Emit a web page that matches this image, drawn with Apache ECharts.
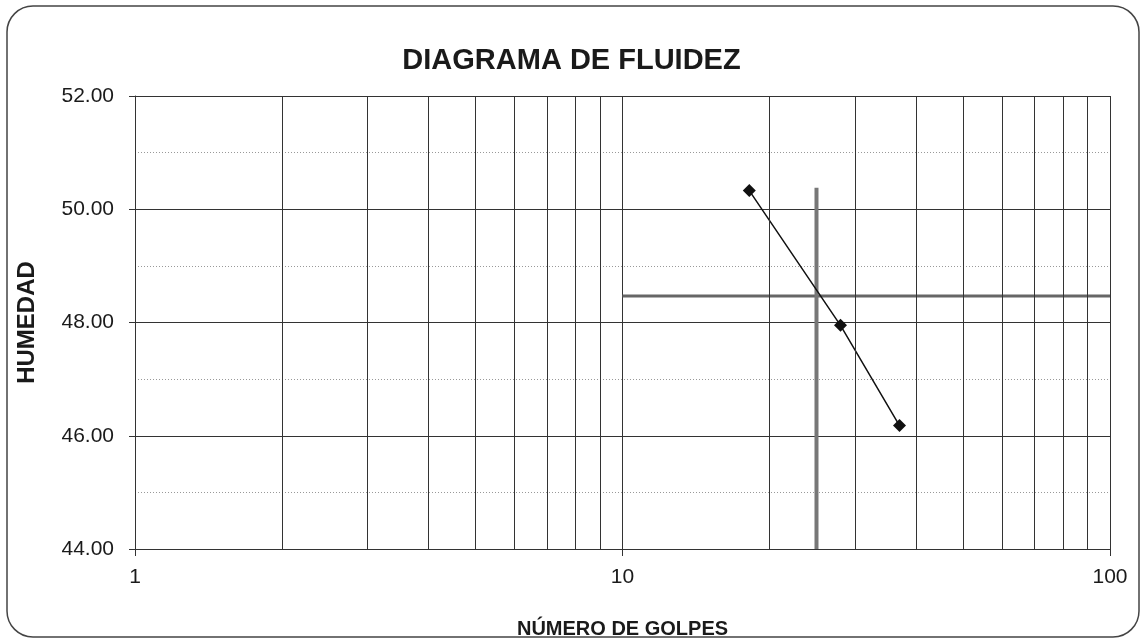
<!DOCTYPE html>
<html>
<head>
<meta charset="utf-8">
<script src="https://cdn.jsdelivr.net/npm/echarts@6/dist/echarts.min.js"></script>
<style>
html,body{margin:0;padding:0;background:#fff;}
#chart{width:1143px;height:641px;}
</style>
</head>
<body>
<div id="chart"></div>
<script>
// datos del ensayo (numero de golpes vs humedad)
var golpes = [18.2, 28, 37];
var humedad = [50.33, 47.95, 46.18];
// linea vertical a 25 golpes
var lineaV = [[25, 44], [25, 50.38]];
// linea horizontal del limite liquido
var lineaH = [[10, 48.47], [100, 48.47]];
// lineas menores de la escala logaritmica
var gridMenorX = [2, 3, 4, 5, 6, 7, 8, 9, 20, 30, 40, 50, 60, 70, 80, 90];

var sans = "'Liberation Sans', Arial, sans-serif";

var myChart = echarts.init(document.getElementById('chart'));
var puntos = [];
for (var i = 0; i < golpes.length; i++) {
	puntos.push([golpes[i], humedad[i]]);
}
var option = {
	backgroundColor: '#fff',
	animation: false,
	title: {
		text: 'DIAGRAMA DE FLUIDEZ',
		left: 'center',
		top: 41,
		textStyle: {fontFamily: sans, fontSize: 29, fontWeight: 'bold', color: '#1a1a1a'}
	},
	graphic: [{
		type: 'rect',
		shape: {x: 7, y: 6, width: 1132, height: 631, r: 26},
		style: {fill: 'none', stroke: '#444', lineWidth: 1.5},
		silent: true
	}],
	grid: {left: 135, right: 33, top: 96, bottom: 92, outerBoundsMode: 'none'},
	xAxis: {
		type: 'log',
		logBase: 10,
		min: 1,
		max: 100,
		name: 'NÚMERO DE GOLPES',
		nameLocation: 'middle',
		nameGap: 70,
		nameTextStyle: {fontFamily: sans, fontSize: 20, fontWeight: 'bold', color: '#1a1a1a'},
		axisLine: {lineStyle: {color: '#333', width: 1}},
		axisTick: {show: true, length: 7, lineStyle: {color: '#333'}},
		axisLabel: {fontFamily: sans, fontSize: 21, color: '#1a1a1a', margin: 18},
		splitLine: {show: true, lineStyle: {color: '#333', width: 1}}
	},
	yAxis: {
		type: 'value',
		min: 44,
		max: 52,
		interval: 2,
		name: 'HUMEDAD',
		nameLocation: 'middle',
		nameGap: 96,
		nameRotate: 90,
		nameTextStyle: {fontFamily: sans, fontSize: 24, fontWeight: 'bold', color: '#1a1a1a'},
		axisLine: {show: true, lineStyle: {color: '#333', width: 1}},
		axisTick: {show: true, length: 6, lineStyle: {color: '#333'}},
		axisLabel: {
			fontFamily: sans, fontSize: 21, color: '#1a1a1a', margin: 21,
			formatter: function (v) { return v.toFixed(2); }
		},
		splitLine: {show: true, lineStyle: {color: '#333', width: 1}},
		minorTick: {show: false, splitNumber: 2},
		minorSplitLine: {show: true, lineStyle: {color: '#999', width: 1, type: [1, 2]}}
	},
	series: [{
		type: 'line',
		data: [],
		silent: true,
		markLine: {
			silent: true,
			symbol: 'none',
			label: {show: false},
			lineStyle: {color: '#333', width: 1, type: 'solid'},
			data: gridMenorX.map(function (v) { return {xAxis: v}; })
		}
	}, {
		type: 'line',
		data: lineaH,
		symbol: 'none',
		lineStyle: {color: '#666', width: 3}
	}, {
		type: 'line',
		data: lineaV,
		symbol: 'none',
		lineStyle: {color: '#777', width: 4}
	}, {
		type: 'line',
		data: puntos,
		symbol: 'diamond',
		symbolSize: 13,
		itemStyle: {color: '#111'},
		lineStyle: {color: '#111', width: 1.5}
	}]
};
myChart.setOption(option);
</script>
</body>
</html>
